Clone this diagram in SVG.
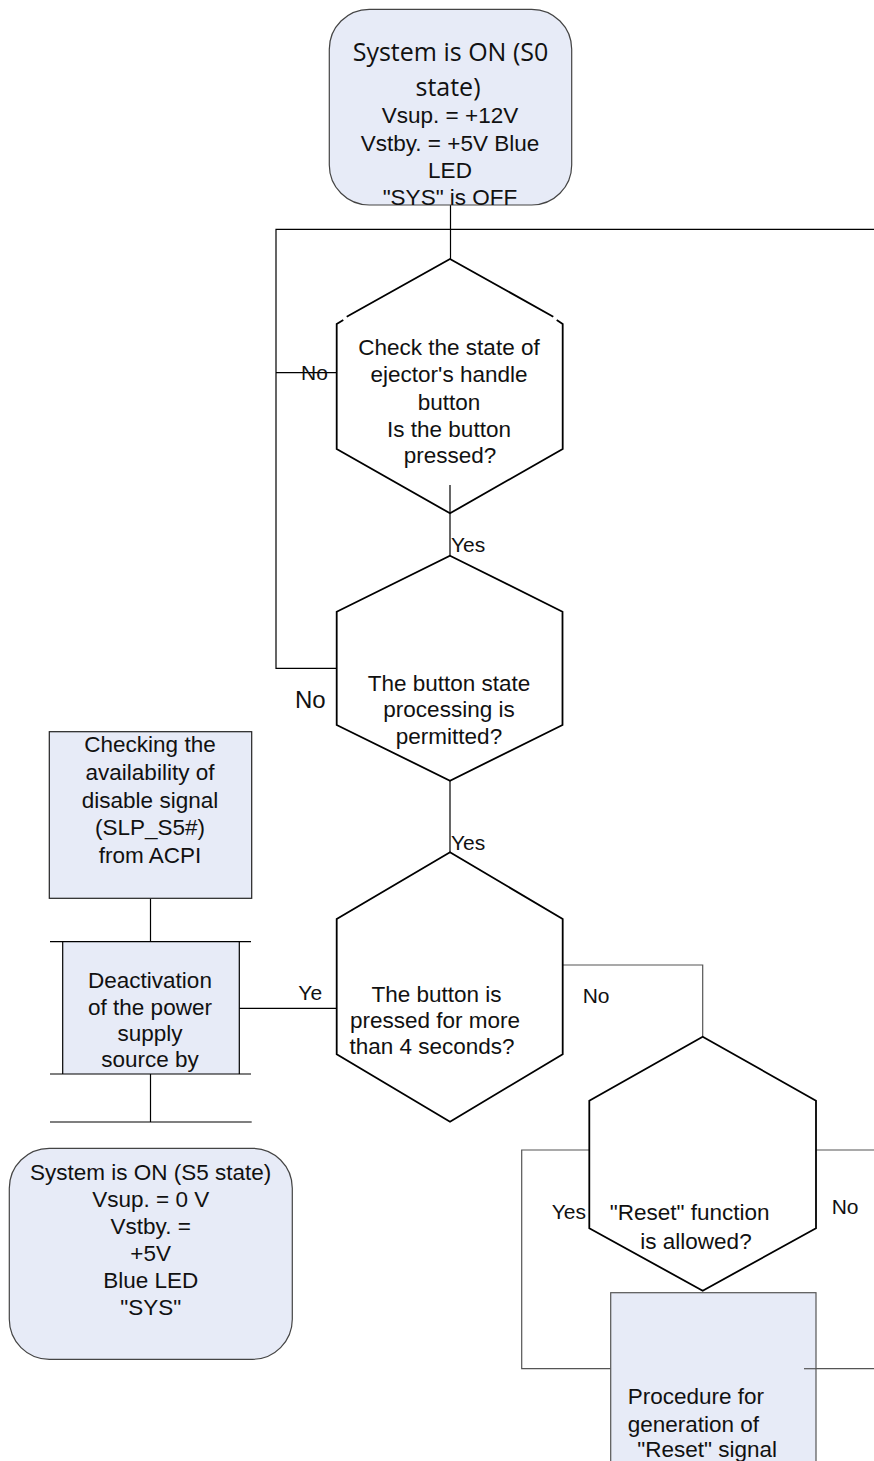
<svg xmlns="http://www.w3.org/2000/svg" width="874" height="1461" viewBox="0 0 874 1461">
<defs>
<style>
.bg{fill:#ffffff}
.box{fill:#E7EBF7;stroke:#222;stroke-width:1.2}
.rbox{fill:#E7EBF7;stroke:#444;stroke-width:1.2}
.hex{fill:#ffffff;stroke:#000;stroke-width:1.8;stroke-linejoin:miter}
.hexo{fill:none;stroke:#000;stroke-width:1.8}
.ln{fill:none;stroke:#000;stroke-width:1.2}
.lg{fill:none;stroke:#555;stroke-width:1.2}
.t{font-family:"Liberation Sans",Arial,sans-serif;font-size:22.5px;fill:#111;text-anchor:middle}
.ts{font-family:"Liberation Sans",Arial,sans-serif;font-size:22.5px;fill:#111}
.lb{font-family:"Liberation Sans",Arial,sans-serif;font-size:21px;fill:#111}
.big{font-family:"Open Sans","Noto Sans",sans-serif;font-size:25px;fill:#111;text-anchor:middle}
</style>
</defs>
<rect class="bg" x="0" y="0" width="874" height="1461"/>

<g id="connectors">
  <!-- top box to hex1 and loop -->
  <path class="ln" d="M450.5 205 V259"/>
  <path class="ln" d="M874 229.3 H276 V668.3 H336.7"/>
  <path class="ln" d="M276 372.7 H336.7"/>
  <!-- hex1 to hex2 -->
  <path class="ln" d="M450 485 V556"/>
  <!-- hex2 to hex3 -->
  <path class="ln" d="M450 781 V852"/>
  <!-- checking box to deactivation -->
  <path class="ln" d="M150.5 898.3 V941.7"/>
  <!-- hex3 yes to deactivation -->
  <path class="ln" d="M239.3 1008.3 H336.7"/>
  <!-- deactivation to bottom -->
  <path class="ln" d="M150.5 1074 V1122"/>
  <path class="ln" d="M50 1122 H251.7"/>
  <!-- hex3 no to hex4 -->
  <path class="lg" d="M562.7 965 H702.7 V1036.7"/>
  <!-- hex4 loops -->
  <path class="lg" d="M589.3 1150 H521.7 V1368.7 H610.7"/>
  <path class="lg" d="M816 1150 H874"/>
  <path class="lg" d="M804 1368.7 H874"/>
</g>

<g id="labels">
  <text class="lb" x="301" y="380">No</text>
  <text class="lb" x="451" y="551.7">Yes</text>
  <text class="lb" x="295" y="708.3" style="font-size:24px">No</text>
  <text class="lb" x="451" y="850">Yes</text>
  <text class="lb" x="298.3" y="1000">Ye</text>
  <text class="lb" x="582.7" y="1003">No</text>
  <text class="lb" x="551.7" y="1219.3">Yes</text>
  <text class="lb" x="831.7" y="1214">No</text>
</g>

<g id="start">
  <rect class="rbox" x="329.3" y="9.3" width="242.4" height="195.7" rx="40" ry="40"/>
  <text class="big" x="450.5" y="60.7">System is ON (S0</text>
  <text class="big" x="448" y="95.5">state)</text>
  <text class="t" x="450" y="122.7">Vsup. = +12V</text>
  <text class="t" x="450" y="150.5">Vstby. = +5V Blue</text>
  <text class="t" x="450" y="178.3">LED</text>
  <text class="t" x="450" y="205">"SYS" is OFF</text>
</g>

<g id="hex1">
  <path class="hexo" d="M346.7 316.7 L450 259 L553.3 316.7"/>
  <path class="hexo" d="M343.3 320 L336.7 324 V449 L450 513.3 L562.7 449 V324 L556.7 320"/>
  <text class="t" x="449" y="355">Check the state of</text>
  <text class="t" x="449" y="382.3">ejector's handle</text>
  <text class="t" x="449" y="410">button</text>
  <text class="t" x="449" y="436.7">Is the button</text>
  <text class="t" x="450" y="463.3">pressed?</text>
</g>

<g id="hex2">
  <path class="hex" d="M450 555.7 L562.5 611.7 V725 L450 780.7 L336.7 725 V611.7 Z"/>
  <text class="t" x="449" y="690.7">The button state</text>
  <text class="t" x="449" y="717.3">processing is</text>
  <text class="t" x="449" y="744">permitted?</text>
</g>

<g id="checking">
  <rect class="box" x="49.3" y="731.7" width="202.4" height="166.6"/>
  <text class="t" x="150" y="752.3">Checking the</text>
  <text class="t" x="150" y="780">availability of</text>
  <text class="t" x="150" y="807.7">disable signal</text>
  <text class="t" x="150" y="835">(SLP_S5#)</text>
  <text class="t" x="150" y="862.7">from ACPI</text>
</g>

<g id="deactivation">
  <rect x="62.7" y="941.7" width="176.6" height="132.3" fill="#E7EBF7"/>
  <path class="ln" d="M50 941.7 H251 M50 1074 H251 M62.7 941.7 V1074 M239.3 941.7 V1074"/>
  <text class="t" x="150" y="988.3">Deactivation</text>
  <text class="t" x="150" y="1014.5">of the power</text>
  <text class="t" x="150" y="1041">supply</text>
  <text class="t" x="150" y="1067.3">source by</text>
</g>

<g id="hex3">
  <path class="hex" d="M450 852.3 L562.7 919 V1054.3 L450 1121.7 L336.7 1054.3 V919 Z"/>
  <text class="t" x="436.5" y="1001.7">The button is</text>
  <text class="t" x="435" y="1028.3">pressed for more</text>
  <text class="t" x="432" y="1053.5">than 4 seconds?</text>
</g>

<g id="end">
  <rect class="rbox" x="9.3" y="1148.3" width="283" height="211" rx="40" ry="40"/>
  <text class="t" x="150.7" y="1180">System is ON (S5 state)</text>
  <text class="t" x="150.7" y="1207.3">Vsup. = 0 V</text>
  <text class="t" x="150.7" y="1233.8">Vstby. =</text>
  <text class="t" x="150.7" y="1260.7">+5V</text>
  <text class="t" x="150.7" y="1287.7">Blue LED</text>
  <text class="t" x="150.7" y="1315">"SYS"</text>
</g>

<g id="hex4">
  <path class="hex" d="M702.7 1036.7 L816 1100.7 V1228.3 L702.7 1290.7 L589.3 1228.3 V1100.7 Z"/>
  <text class="t" x="689.7" y="1220">"Reset" function</text>
  <text class="t" x="696" y="1249.3">is allowed?</text>
</g>

<g id="reset">
  <rect class="box" x="610.7" y="1292.7" width="205.3" height="200" style="stroke:#555"/>
  <path class="lg" d="M804 1368.7 H816"/>
  <text class="ts" x="627.7" y="1404">Procedure for</text>
  <text class="ts" x="627.7" y="1431.7">generation of</text>
  <text class="ts" x="637.3" y="1456.7">"Reset" signal</text>
</g>
</svg>
